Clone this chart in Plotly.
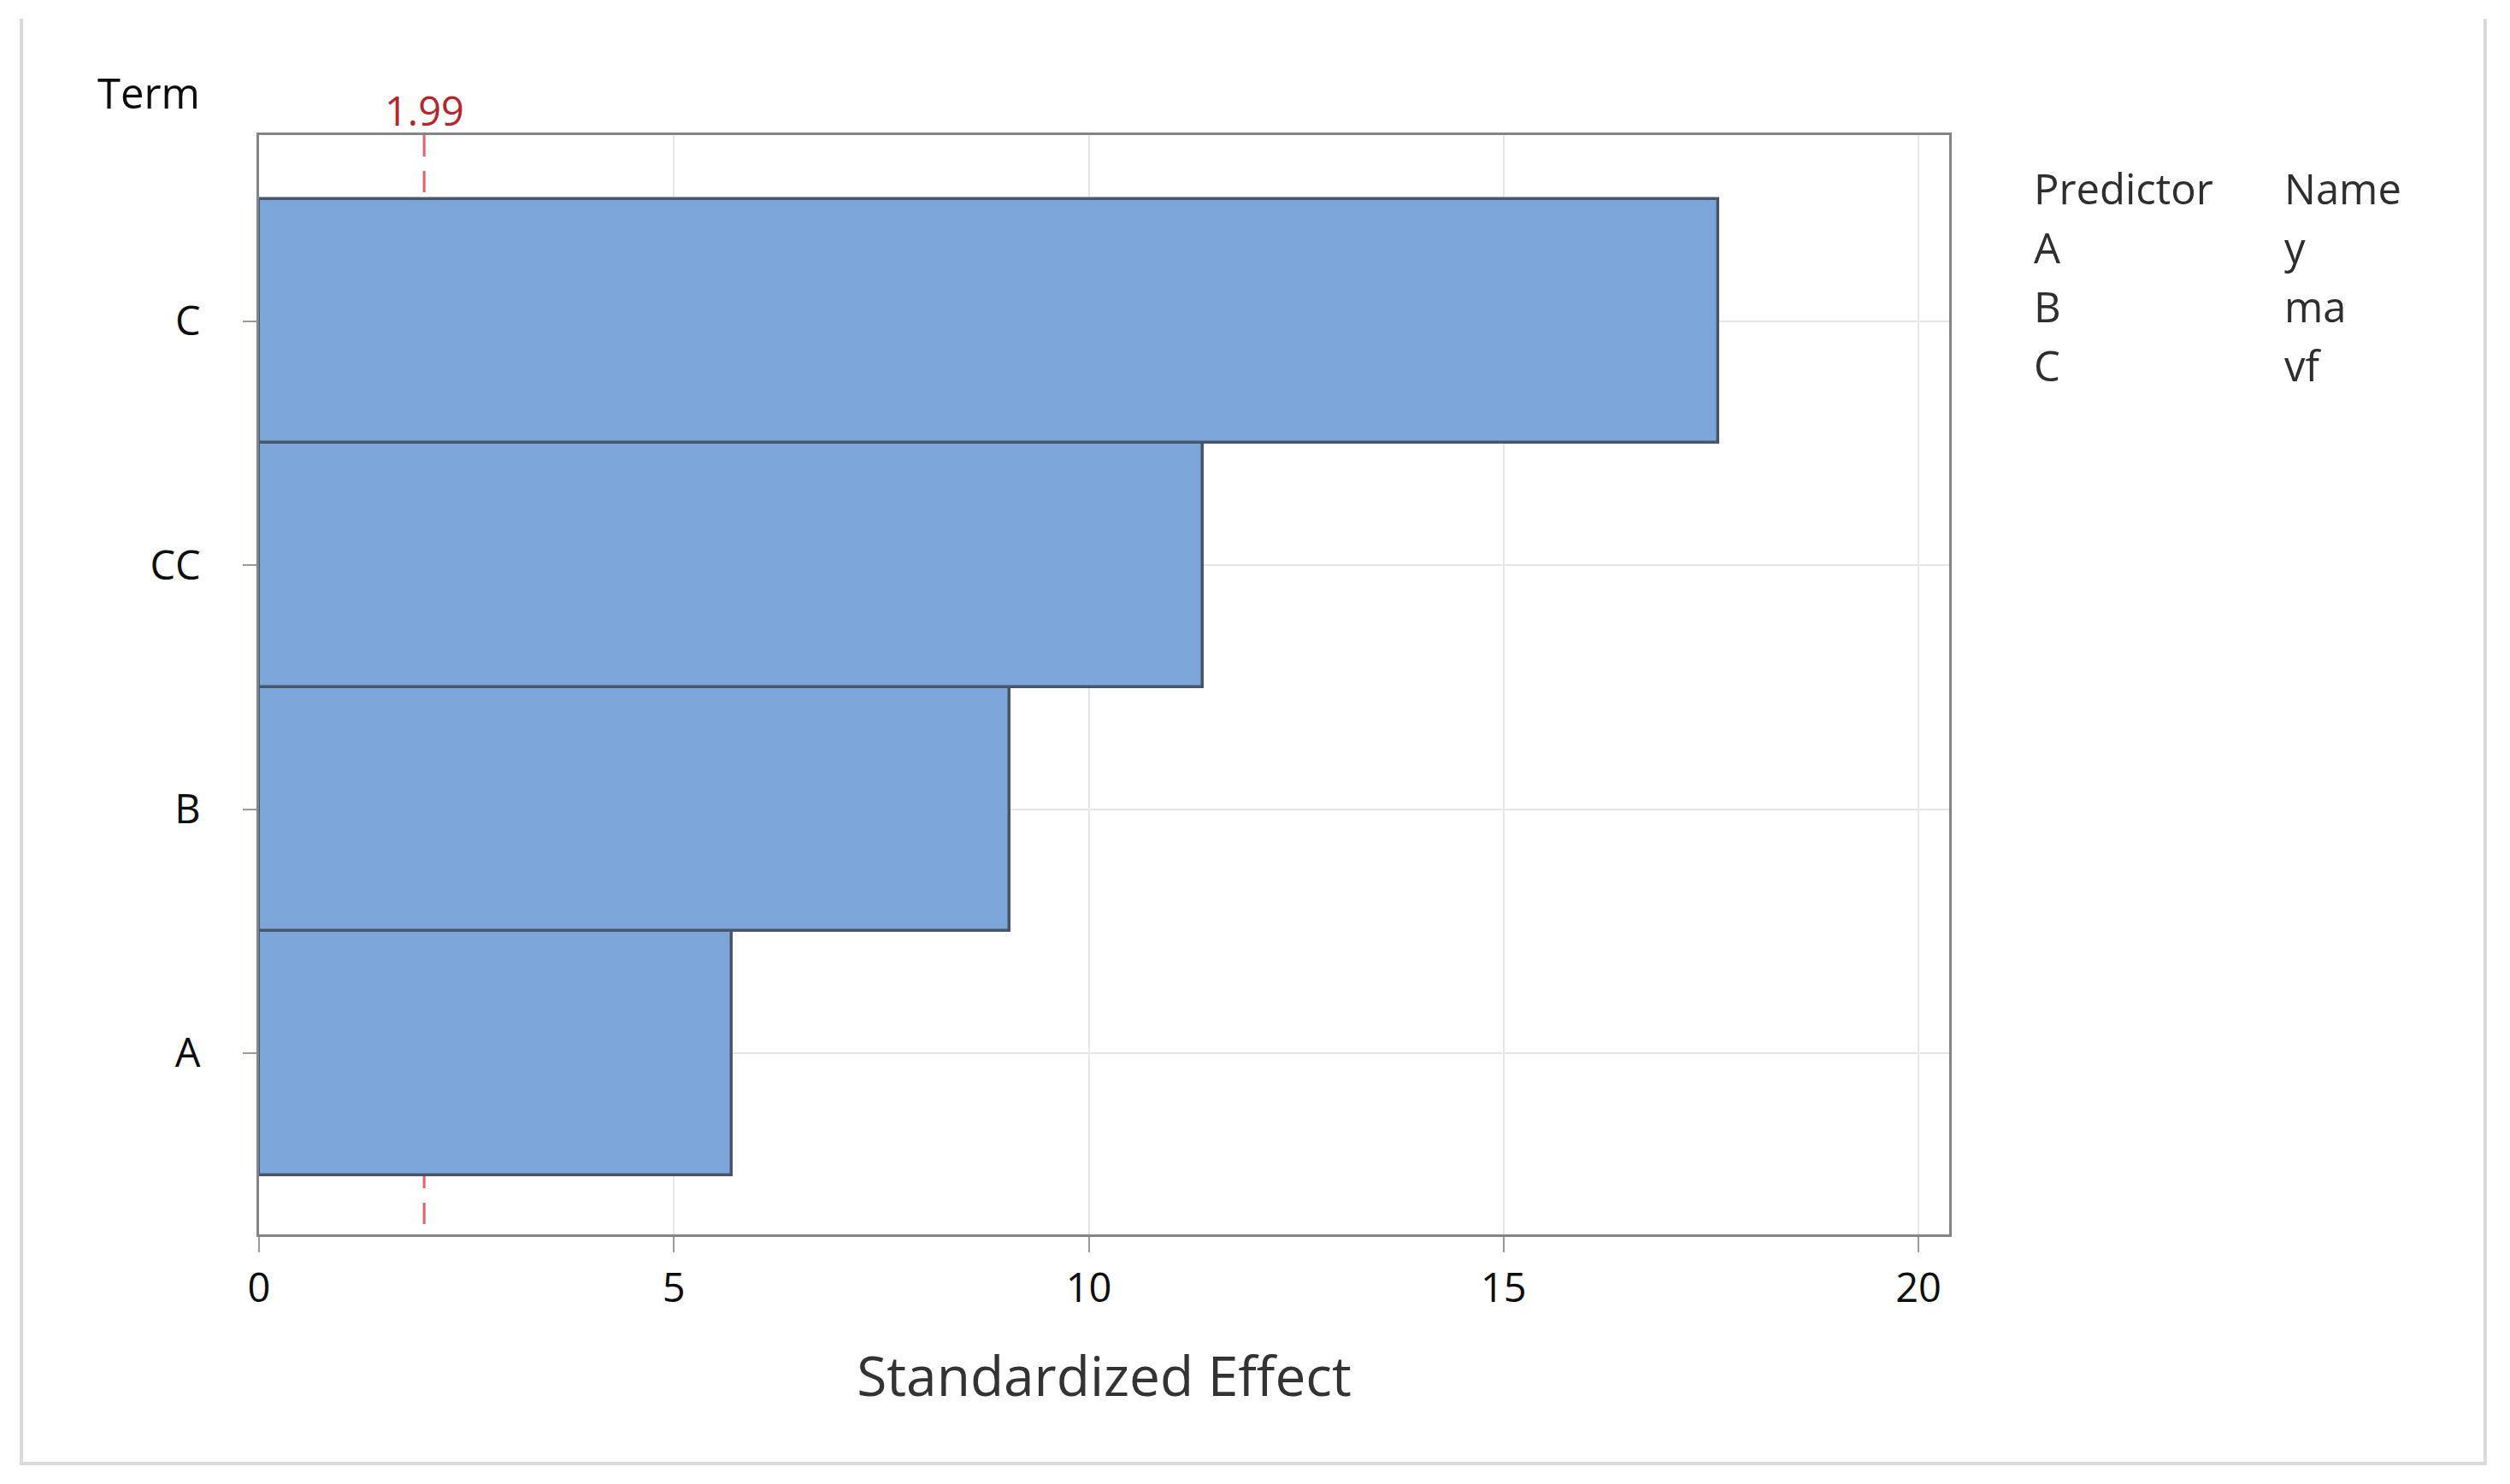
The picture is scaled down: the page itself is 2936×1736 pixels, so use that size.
"""Pareto-style chart of standardized effects (Minitab look)."""

import plotly.graph_objects as go

# data
terms = ["A", "B", "CC", "C"]
effects = [5.70, 9.05, 11.38, 17.59]
threshold = 1.99

x_ticks = [0, 5, 10, 15, 20]

predictors = ["A", "B", "C"]
predictor_names = ["y", "ma", "vf"]

FONT = "Open Sans"
BAR_COLOR = "#7ca6d9"
BAR_EDGE = "#47566a"
GRID = "#e6e6e6"
FRAME = "#858585"

fig = go.Figure()

fig.add_trace(
    go.Bar(
        x=effects,
        y=terms,
        orientation="h",
        width=1.0,
        marker=dict(color=BAR_COLOR, line=dict(color=BAR_EDGE, width=3.5)),
        hoverinfo="x+y",
        showlegend=False,
    )
)

# reference line for the critical value, drawn behind the bars
for y0, y1 in [(3.763, 3.4), (-0.701, -0.4)]:
    fig.add_shape(
        type="line",
        xref="x",
        yref="y",
        x0=threshold,
        x1=threshold,
        y0=y0,
        y1=y1,
        line=dict(color="#e2626b", width=3, dash="25px,17px"),
        layer="below",
    )

fig.add_annotation(
    x=threshold,
    xref="x",
    y=1.0226,
    yref="paper",
    text=f"{threshold:.2f}",
    showarrow=False,
    font=dict(family=FONT, size=47, color="#b3262e"),
    xanchor="center",
    yanchor="middle",
)

fig.add_annotation(
    x=-0.0652,
    xref="paper",
    y=1.0389,
    yref="paper",
    text="Term",
    showarrow=False,
    font=dict(family=FONT, size=49, color="#0d0d0d"),
    xanchor="center",
    yanchor="middle",
)

# predictor / name table at the right
rows_y = [0.9518, 0.8981, 0.8445, 0.7908]
col1 = ["Predictor"] + predictors
col2 = ["Name"] + predictor_names
for yy, a, b in zip(rows_y, col1, col2):
    for xx, txt in [(1.0491, a), (1.1973, b)]:
        fig.add_annotation(
            x=xx,
            xref="paper",
            y=yy,
            yref="paper",
            text=txt,
            showarrow=False,
            font=dict(family=FONT, size=49, color="#2e2e2e"),
            xanchor="left",
            yanchor="middle",
        )

# light outer frame (left, bottom, right)
fig.add_shape(
    type="path",
    xref="paper",
    yref="paper",
    path="M -0.1406,1.1058 L -0.1406,-0.2084 L 1.3171,-0.2084 L 1.3171,1.1058",
    line=dict(color="#dadada", width=4),
)

fig.update_layout(
    width=2920,
    height=1720,
    paper_bgcolor="white",
    plot_bgcolor="white",
    bargap=0,
    margin=dict(l=295, r=648, t=150, b=284),
    font=dict(family=FONT, size=47, color="#0d0d0d"),
    xaxis=dict(
        range=[0, 20.37],
        tickvals=x_ticks,
        showgrid=True,
        gridcolor=GRID,
        gridwidth=2,
        zeroline=False,
        showline=True,
        mirror=True,
        linecolor=FRAME,
        linewidth=3,
        ticks="outside",
        ticklen=18,
        tickwidth=2,
        tickcolor="#9a9a9a",
        ticklabelstandoff=2,
        tickfont=dict(family=FONT, size=47, color="#0d0d0d"),
        title=dict(
            text="Standardized Effect",
            font=dict(family=FONT, size=64, color="#333333"),
            standoff=52,
        ),
    ),
    yaxis=dict(
        range=[-0.743, 3.763],
        type="category",
        categoryorder="array",
        categoryarray=terms,
        showgrid=True,
        gridcolor=GRID,
        gridwidth=2,
        zeroline=False,
        showline=True,
        mirror=True,
        linecolor=FRAME,
        linewidth=3,
        ticks="outside",
        ticklen=16,
        tickwidth=2,
        tickcolor="#9a9a9a",
        ticklabelstandoff=40,
        tickfont=dict(family=FONT, size=47, color="#0d0d0d"),
    ),
)

fig.write_html("out.html")
